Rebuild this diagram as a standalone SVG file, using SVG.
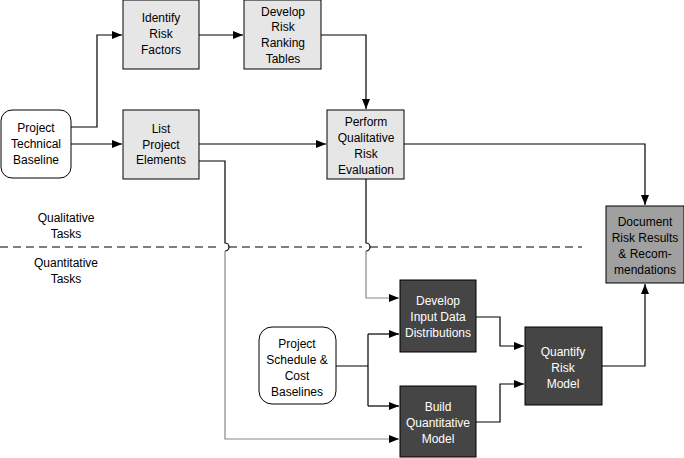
<svg xmlns="http://www.w3.org/2000/svg" width="684" height="458" viewBox="0 0 684 458">
<defs>
<marker id="a" markerWidth="10" markerHeight="8" refX="10" refY="4" orient="auto" markerUnits="userSpaceOnUse"><path d="M0,0 L10,4 L0,8 Z" fill="#000"/></marker>
<style>
.l{fill:#e6e6e6;stroke:#000;stroke-width:1}
.d{fill:#454545;stroke:#000;stroke-width:1}
.m{fill:#a0a0a0;stroke:#000;stroke-width:1}
.r{fill:#fff;stroke:#000;stroke-width:1}
text{font-family:"Liberation Sans",Arial,sans-serif;font-size:12px;text-anchor:middle}
.w{fill:#fff}
.c{fill:none;stroke:#000;stroke-width:1.2}
.g{fill:none;stroke:#888;stroke-width:1.2}
</style>
</defs>
<g id="connectors">
<path class="c" d="M71,127 H97 V35 H122" marker-end="url(#a)"/>
<path class="c" d="M71,144 H122" marker-end="url(#a)"/>
<path class="c" d="M199,35 H243" marker-end="url(#a)"/>
<path class="c" d="M321,35 H366 V109" marker-end="url(#a)"/>
<path class="c" d="M199,144 H326" marker-end="url(#a)"/>
<path class="c" d="M199,161 H225 V243 a4,4 0 0 1 0,8"/>
<path class="g" d="M225,251 V439 H399" marker-end="url(#a)"/>
<path class="c" d="M404,144 H645 V205" marker-end="url(#a)"/>
<path class="c" d="M366,179 V243 a4,4 0 0 1 0,8"/>
<path class="g" d="M366,251 V298 H399" marker-end="url(#a)"/>
<path class="c" d="M336,366 H368 M368,334 V406"/>
<path class="c" d="M368,334 H399" marker-end="url(#a)"/>
<path class="c" d="M368,406 H399" marker-end="url(#a)"/>
<path class="c" d="M476,317 H500 V346 H524" marker-end="url(#a)"/>
<path class="c" d="M476,422 H500 V384 H524" marker-end="url(#a)"/>
<path class="c" d="M602,366 H645 V284" marker-end="url(#a)"/>
<path d="M0,247 H221 M229,247 H362 M370,247 H582" fill="none" stroke="#000" stroke-width="1.2" stroke-dasharray="8,5"/>
</g>
<g id="ptb"><rect class="r" x="1" y="110" width="70" height="68" rx="11"/><text x="36" y="132">Project</text><text x="36" y="148">Technical</text><text x="36" y="164">Baseline</text></g>
<g id="irf"><rect class="l" x="123" y="0" width="76" height="69"/><text x="161" y="22">Identify</text><text x="161" y="38">Risk</text><text x="161" y="54">Factors</text></g>
<g id="drrt"><rect class="l" x="244" y="0" width="77" height="69"/><text x="283" y="16">Develop</text><text x="283" y="31">Risk</text><text x="283" y="47">Ranking</text><text x="283" y="63">Tables</text></g>
<g id="lpe"><rect class="l" x="123" y="110" width="76" height="69"/><text x="161" y="133">List</text><text x="161" y="149">Project</text><text x="161" y="164">Elements</text></g>
<g id="pqre"><rect class="l" x="327" y="110" width="77" height="69"/><text x="366" y="126">Perform</text><text x="366" y="142">Qualitative</text><text x="366" y="158">Risk</text><text x="366" y="174">Evaluation</text></g>
<g id="drr"><rect class="m" x="606" y="206" width="78" height="77"/><text x="645" y="226">Document</text><text x="645" y="242">Risk Results</text><text x="645" y="258">&amp; Recom-</text><text x="645" y="274">mendations</text></g>
<g id="didd"><rect class="d" x="400" y="280" width="76" height="72"/><text class="w" x="438" y="305">Develop</text><text class="w" x="438" y="321">Input Data</text><text class="w" x="438" y="337">Distributions</text></g>
<g id="bqm"><rect class="d" x="400" y="386" width="76" height="71"/><text class="w" x="438" y="411">Build</text><text class="w" x="438" y="427">Quantitative</text><text class="w" x="438" y="443">Model</text></g>
<g id="qrm"><rect class="d" x="525" y="327" width="77" height="78"/><text class="w" x="563" y="356">Quantify</text><text class="w" x="563" y="372">Risk</text><text class="w" x="563" y="388">Model</text></g>
<g id="pscb"><rect class="r" x="259" y="327" width="77" height="77" rx="13"/><text x="297" y="348">Project</text><text x="297" y="364">Schedule &amp;</text><text x="297" y="380">Cost</text><text x="297" y="396">Baselines</text></g>
<g id="labels"><text x="66" y="222">Qualitative</text><text x="66" y="238">Tasks</text><text x="66" y="267">Quantitative</text><text x="66" y="283">Tasks</text></g>
</svg>
